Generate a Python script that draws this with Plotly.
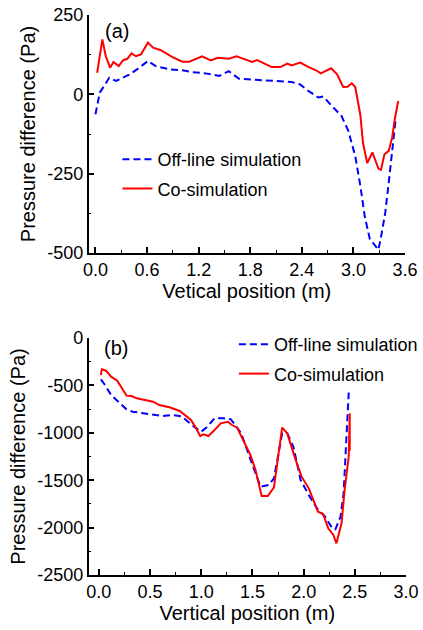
import plotly.graph_objects as go

# ---------------- Panel (a) data ----------------
a_co_x = [0.02, 0.08, 0.12, 0.17, 0.21, 0.27, 0.32, 0.37, 0.42, 0.47, 0.53, 0.61, 0.67, 0.76,
          0.89, 1.01, 1.09, 1.17, 1.24, 1.34, 1.42, 1.55, 1.64, 1.74, 1.82, 1.88, 1.96, 2.05,
          2.15, 2.23, 2.28, 2.38, 2.48, 2.57, 2.62, 2.67, 2.74, 2.81, 2.88, 2.93, 2.98, 3.02,
          3.08, 3.11, 3.16, 3.22, 3.29, 3.32, 3.36, 3.41, 3.45, 3.48, 3.51, 3.52]
a_co_y = [68, 173, 120, 84, 102, 89, 107, 112, 129, 120, 126, 163, 147, 139,
          118, 103, 103, 112, 120, 107, 115, 112, 120, 110, 102, 108, 97, 86,
          86, 97, 91, 100, 86, 75, 66, 73, 82, 63, 23, 24, 35, 24,
          -65, -152, -217, -183, -234, -238, -189, -178, -136, -79, -30, -21]

a_off_x = [0.00, 0.05, 0.16, 0.24, 0.36, 0.40, 0.51, 0.61, 0.70, 0.86, 1.01, 1.13, 1.28, 1.44,
           1.55, 1.67, 1.90, 2.09, 2.28, 2.38, 2.48, 2.59, 2.65, 2.75, 2.86, 2.94, 3.02, 3.08,
           3.13, 3.19, 3.26, 3.29, 3.33, 3.37, 3.41, 3.45, 3.49]
a_off_y = [-63, 5, 52, 42, 58, 63, 84, 105, 89, 79, 76, 70, 66, 58,
           73, 49, 45, 42, 39, 31, 10, -10, -7, -37, -68, -115, -194, -288,
           -383, -456, -482, -490, -435, -372, -278, -183, -80]

# ---------------- Panel (b) data ----------------
b_co_x = [0.02, 0.03, 0.07, 0.12, 0.18, 0.23, 0.27, 0.32, 0.37, 0.45, 0.53, 0.59, 0.69, 0.79,
          0.83, 0.90, 0.95, 0.99, 1.02, 1.07, 1.13, 1.19, 1.26, 1.30, 1.35, 1.42, 1.48, 1.53,
          1.59, 1.65, 1.71, 1.79, 1.84, 1.92, 1.98, 2.05, 2.10, 2.14, 2.19, 2.24, 2.29, 2.32,
          2.37, 2.40, 2.44, 2.45, 2.45, 2.45, 2.45]
b_co_y = [-390, -330, -345, -408, -450, -531, -608, -612, -636, -654, -672, -707, -731, -770,
          -802, -865, -953, -1034, -1016, -1034, -971, -900, -883, -918, -946, -1094, -1234, -1393,
          -1667, -1667, -1575, -946, -1006, -1280, -1463, -1586, -1727, -1832, -1857, -2008, -2078, -2166,
          -1955, -1604, -1252, -794, -1190, -820, -1150]

b_off_x = [0.02, 0.06, 0.12, 0.18, 0.27, 0.33, 0.43, 0.51, 0.62, 0.71, 0.79, 0.83, 0.93, 1.00,
           1.06, 1.13, 1.22, 1.29, 1.39, 1.50, 1.58, 1.66, 1.71, 1.79, 1.84, 1.90, 1.97, 2.05,
           2.13, 2.21, 2.28, 2.31, 2.36, 2.39, 2.41, 2.43, 2.44]
b_off_y = [-436, -496, -601, -661, -752, -777, -795, -802, -823, -812, -823, -847, -936, -988,
           -936, -847, -847, -858, -1005, -1340, -1568, -1550, -1480, -1006, -1006, -1147, -1498, -1656,
           -1797, -1885, -2008, -2018, -1885, -1638, -1252, -794, -575]

a_xticks = [0.0, 0.6, 1.2, 1.8, 2.4, 3.0, 3.6]
a_yticks = [-500, -250, 0, 250]
b_xticks = [0.0, 0.5, 1.0, 1.5, 2.0, 2.5, 3.0]
b_yticks = [-2500, -2000, -1500, -1000, -500, 0]

FONT = "Liberation Sans, Arial, sans-serif"
W, H = 423, 630
BLUE = "#0000ff"
RED = "#ff0000"

fig = go.Figure()
fig.add_trace(go.Scatter(x=a_off_x, y=a_off_y, mode="lines", name="Off-line simulation",
                         line=dict(color=BLUE, width=2, dash="7px,4px"),
                         xaxis="x", yaxis="y", legend="legend", legendgroup="a1"))
fig.add_trace(go.Scatter(x=a_co_x, y=a_co_y, mode="lines", name="Co-simulation",
                         line=dict(color=RED, width=2),
                         xaxis="x", yaxis="y", legend="legend", legendgroup="a2"))
fig.add_trace(go.Scatter(x=b_off_x, y=b_off_y, mode="lines", name="Off-line simulation",
                         line=dict(color=BLUE, width=2, dash="7px,4px"),
                         xaxis="x2", yaxis="y2", legend="legend2", legendgroup="b1"))
fig.add_trace(go.Scatter(x=b_co_x, y=b_co_y, mode="lines", name="Co-simulation",
                         line=dict(color=RED, width=2),
                         xaxis="x2", yaxis="y2", legend="legend2", legendgroup="b2"))

def ax(rng, ticks, dom, anchor, title, minor_dtick, standoff):
    return dict(range=rng, tickvals=ticks, ticktext=[f"{t:.1f}" if isinstance(t, float) else str(t) for t in ticks],
                domain=dom, anchor=anchor, showline=True, linecolor="black", linewidth=1.5,
                ticks="inside", ticklen=6, tickwidth=1.5, tickcolor="black",
                minor=dict(ticks="inside", dtick=minor_dtick, ticklen=3, tickwidth=1.2, tickcolor="black", showgrid=False),
                showgrid=False, zeroline=False, mirror=False,
                tickfont=dict(family=FONT, size=18, color="black"),
                title=dict(text=title, font=dict(family=FONT, size=20, color="black"), standoff=standoff),
                automargin=False)

xa = ax([-0.08, 3.6], a_xticks, [89 / W, 407 / W], "y", "Vetical position (m)", 0.3, 4)
ya = ax([-500, 250], a_yticks, [1 - 253 / H, 1 - 15 / H], "x", "Pressure difference (Pa)", 125, 6)
xb = ax([-0.1, 3.0], b_xticks, [89 / W, 408 / W], "y2", "Vertical position (m)", 0.25, 4)
yb = ax([-2500, 0], b_yticks, [1 - 575 / H, 1 - 338 / H], "x2", "Pressure difference (Pa)", 250, 6)
xa["tick0"] = 0; xb["tick0"] = 0
xa["minor"]["tick0"] = 0; xb["minor"]["tick0"] = 0
ya["minor"]["tick0"] = 0; yb["minor"]["tick0"] = 0

leg_common = dict(font=dict(family=FONT, size=18, color="black"), bgcolor="rgba(0,0,0,0)",
                  borderwidth=0, xanchor="left", yanchor="top", traceorder="grouped",
                  tracegroupgap=3, itemwidth=30)

fig.update_layout(
    width=W, height=H, margin=dict(l=0, r=0, t=0, b=0),
    paper_bgcolor="white", plot_bgcolor="white", showlegend=True,
    xaxis=xa, yaxis=ya, xaxis2=xb, yaxis2=yb,
    legend=dict(x=118 / W, y=1 - 141 / H, **leg_common),
    legend2=dict(x=235 / W, y=1 - 326 / H, **leg_common),
    annotations=[
        dict(text="(a)", x=103 / W, y=1 - 31 / H, xref="paper", yref="paper", xanchor="left", yanchor="middle",
             showarrow=False, font=dict(family=FONT, size=20, color="black")),
        dict(text="(b)", x=102 / W, y=1 - 348 / H, xref="paper", yref="paper", xanchor="left", yanchor="middle",
             showarrow=False, font=dict(family=FONT, size=20, color="black")),
    ],
)

fig.write_html("out.html")
